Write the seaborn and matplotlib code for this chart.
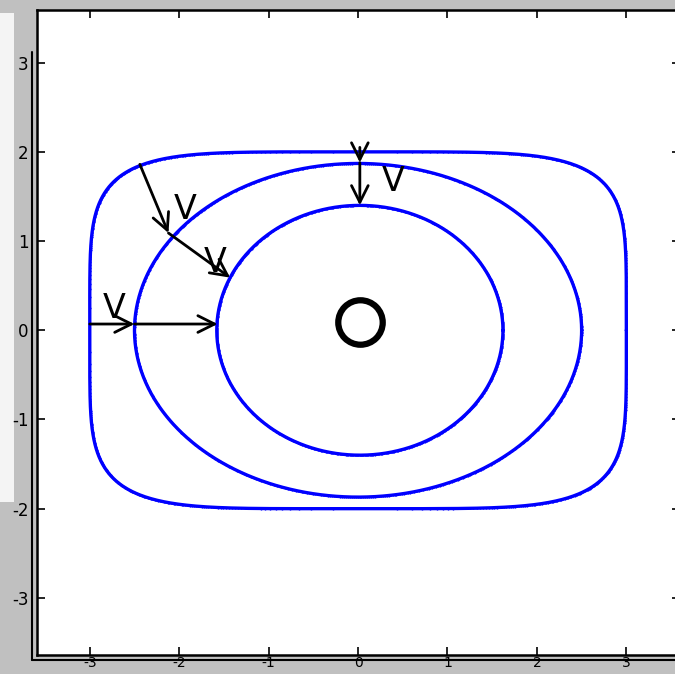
import numpy as np
import pandas as pd
import seaborn as sns
import matplotlib.pyplot as plt
from matplotlib.patches import Rectangle

# Front shapes: half-width, half-height, superellipse exponent
front_names = ["outer", "middle", "inner"]
front_half_w = [3.0, 2.5, 1.6]
front_half_h = [2.0, 1.87, 1.40]
front_power = [5.2, 2.0, 2.0]
front_cx = [0.0, 0.0, 0.02]

# Propagation arrows (start -> end)
arrow_start = [(-3.0, 0.07), (-2.5, 0.07), (-2.44, 1.86), (-2.12, 1.09), (0.02, 2.05), (0.02, 1.88)]
arrow_end = [(-2.5, 0.07), (-1.57, 0.07), (-2.12, 1.09), (-1.43, 0.59), (0.02, 1.88), (0.02, 1.40)]

# "V" labels and source marker
v_pos = [(-2.73, 0.06), (-1.93, 1.17), (-1.6, 0.58), (0.39, 1.48)]
source_pos = (0.02, 0.09)

ticks = [-3, -2, -1, 0, 1, 2, 3]

sns.set_style("white")
fig = plt.figure(figsize=(6.75, 6.74), dpi=100)
fig.patch.set_facecolor("#c0c0c0")

# light window strip on the left edge
fig.add_artist(Rectangle((0, 1 - 502 / 674), 14 / 675, (502 - 13) / 674,
                         transform=fig.transFigure, facecolor="#f4f4f4",
                         edgecolor="none", zorder=0))

ax = fig.add_axes([37 / 675, 19 / 674, 643 / 675, 645 / 674])
ax.set_facecolor("white")

t = np.linspace(0, 2 * np.pi, 720)
rows = []
for name, a, b, p, cx in zip(front_names, front_half_w, front_half_h, front_power, front_cx):
    c, s = np.cos(t), np.sin(t)
    x = cx + a * np.sign(c) * np.abs(c) ** (2 / p)
    y = b * np.sign(s) * np.abs(s) ** (2 / p)
    rows.append(pd.DataFrame({"x": x, "y": y, "front": name, "order": np.arange(len(t))}))
df = pd.concat(rows, ignore_index=True)

sns.lineplot(data=df, x="x", y="y", units="front", estimator=None, sort=False,
             color="#0000ff", linewidth=2.4, marker=".", markersize=3,
             markeredgewidth=0, ax=ax, legend=False)

for (x0, y0), (x1, y1) in zip(arrow_start, arrow_end):
    ax.annotate("", xy=(x1, y1), xytext=(x0, y0),
                arrowprops=dict(arrowstyle="->", color="black", lw=2,
                                mutation_scale=30, shrinkA=0, shrinkB=0))

for vx, vy in v_pos:
    ax.text(vx, vy, "V", fontsize=24, ha="center", va="bottom", color="black",
            family="DejaVu Sans")

ax.plot([source_pos[0]], [source_pos[1]], marker="o", markersize=32,
        markerfacecolor="none", markeredgecolor="black", markeredgewidth=4.5)

ax.set_xlim(-3.59, 3.6)
ax.set_ylim(-3.64, 3.59)
ax.set_xticks(ticks)
ax.set_yticks(ticks)
ax.set_xticklabels([str(v) for v in ticks], fontsize=10)
ax.set_yticklabels([str(v) for v in ticks], fontsize=12)
ax.set_xlabel("")
ax.set_ylabel("")
ax.tick_params(direction="in", length=6, width=1.2, top=True, right=True,
               bottom=True, left=True, colors="black")
ax.tick_params(axis="x", pad=1)
ax.tick_params(axis="y", pad=6)
for sp in ax.spines.values():
    sp.set_color("black")
    sp.set_linewidth(1.8)

# double frame line along the left and bottom
fig.add_artist(plt.Line2D([32 / 675, 32 / 675], [14 / 674, 1 - 52 / 674],
                          transform=fig.transFigure, color="black", lw=1.5))
fig.add_artist(plt.Line2D([32 / 675, 1], [14 / 674, 14 / 674],
                          transform=fig.transFigure, color="black", lw=1.5))

fig.savefig("out.png", dpi=100, facecolor=fig.get_facecolor())
